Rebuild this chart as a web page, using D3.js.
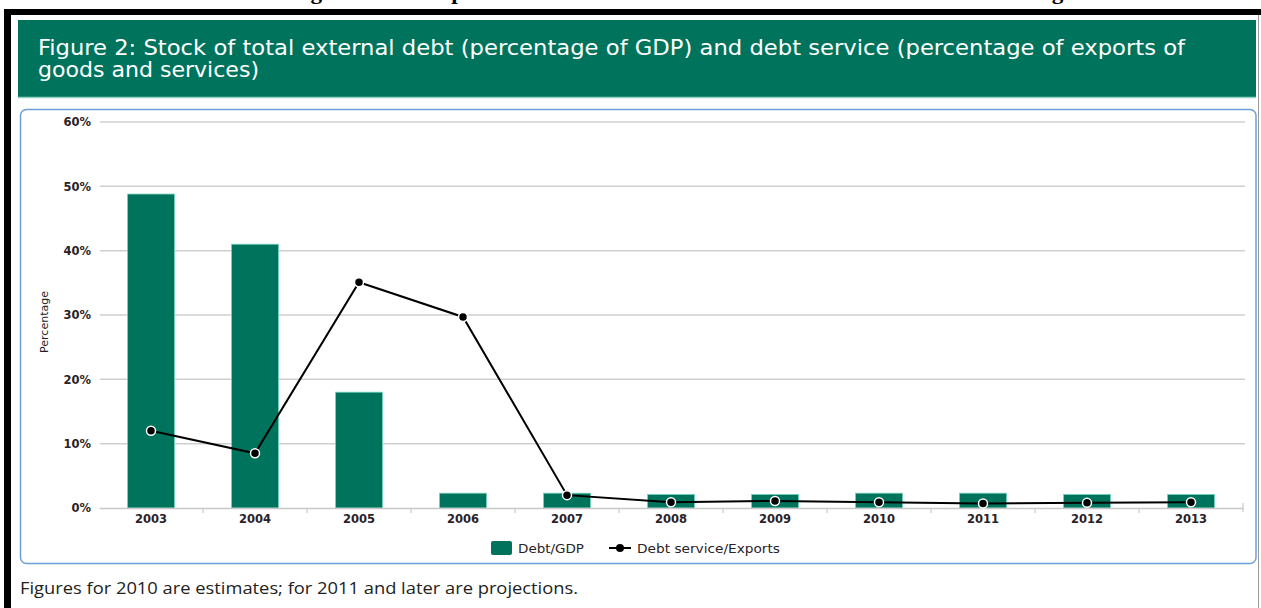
<!DOCTYPE html>
<html><head><meta charset="utf-8">
<script src="https://cdn.jsdelivr.net/npm/d3@7"></script>
<style>html,body{margin:0;padding:0;background:#fff;overflow:hidden}</style>
</head><body>
<svg id="c" width="1261" height="608"></svg>
<script>
const years = ["2003","2004","2005","2006","2007","2008","2009","2010","2011","2012","2013"];
const debtGDP = [48.8, 41.0, 18.0, 2.3, 2.3, 2.1, 2.1, 2.3, 2.3, 2.1, 2.1];
const debtService = [12.0, 8.5, 35.1, 29.7, 2.0, 0.9, 1.1, 0.9, 0.7, 0.8, 0.9];
const yTicks = [0, 10, 20, 30, 40, 50, 60];
const seriesNames = ["Debt/GDP", "Debt service/Exports"];
const titleLines = ["Figure 2: Stock of total external debt (percentage of GDP) and debt service (percentage of exports of", "goods and services)"];
const topCaption = "Figure 4.2: Comparison of Total External Debt and Debt Service Ratio for Nigeria";
const footnote = "Figures for 2010 are estimates; for 2011 and later are projections.";

const green = "#00735c";
const svg = d3.select("#c");

// caption above the frame (cropped in the reference as well)
svg.append("text").attr("x", 290).attr("y", -1)
  .attr("font-family", "Liberation Serif, serif").attr("font-weight", "bold").attr("font-size", 20)
  .attr("textLength", 812).attr("lengthAdjust", "spacingAndGlyphs")
  .attr("fill", "#000").text(topCaption);

// frame
svg.append("rect").attr("x", 4).attr("y", 9).attr("width", 1257).attr("height", 6).attr("fill", "#000");
svg.append("rect").attr("x", 4).attr("y", 9).attr("width", 7).attr("height", 599).attr("fill", "#000");
svg.append("line").attr("x1", 1258.5).attr("x2", 1258.5).attr("y1", 15).attr("y2", 608).attr("stroke", "#9a9a9a").attr("stroke-width", 1);

// header
svg.append("rect").attr("x", 18).attr("y", 20).attr("width", 1238).attr("height", 77).attr("fill", green);
svg.append("line").attr("x1", 18).attr("x2", 1256).attr("y1", 97.5).attr("y2", 97.5).attr("stroke", "#8fd3c3").attr("stroke-width", 1.5);
const tl = svg.append("g").attr("font-family", "DejaVu Sans Condensed, DejaVu Sans, sans-serif").attr("font-size", 20.5).attr("fill", "#fff");
tl.append("text").attr("x", 38).attr("y", 55).attr("textLength", 1147).attr("lengthAdjust", "spacingAndGlyphs").text(titleLines[0]);
tl.append("text").attr("x", 38).attr("y", 77).attr("textLength", 221).attr("lengthAdjust", "spacingAndGlyphs").text(titleLines[1]);

// panel
svg.append("rect").attr("x", 20.5).attr("y", 109.5).attr("width", 1235.5).attr("height", 454).attr("rx", 6)
  .attr("fill", "#fff").attr("stroke", "#6f9fd8").attr("stroke-width", 1.5);

// scales
const x = d3.scaleBand().domain(years).range([99, 1243]).paddingInner(0.55).paddingOuter(0.275);
const y = d3.scaleLinear().domain([0, 60]).range([508, 122]);

// gridlines
svg.append("g").selectAll("line").data(yTicks.filter(d => d > 0)).join("line")
  .attr("x1", 100).attr("x2", 1245).attr("y1", d => y(d)).attr("y2", d => y(d))
  .attr("stroke", "#cfcfcf").attr("stroke-width", 1.5);

// y axis labels
const ya = svg.append("g").attr("transform", "translate(91,0)")
  .call(d3.axisLeft(y).tickValues(yTicks).tickFormat(d => d + "%").tickSize(0).tickPadding(0));
ya.select(".domain").remove();
ya.selectAll("text").attr("font-family", "DejaVu Sans, sans-serif").attr("font-weight", "bold")
  .attr("font-size", 11.5).attr("fill", "#2a2226");

// y title
svg.append("text").attr("transform", "translate(48,322) rotate(-90)").attr("text-anchor", "middle")
  .attr("font-family", "DejaVu Sans, sans-serif").attr("font-size", 11).attr("fill", "#222").text("Percentage");

// bars
svg.append("g").selectAll("rect").data(years).join("rect")
  .attr("x", d => x(d)).attr("width", x.bandwidth())
  .attr("y", (d, i) => y(debtGDP[i])).attr("height", (d, i) => y(0) - y(debtGDP[i]))
  .attr("fill", green).attr("stroke", "#6fcfb6").attr("stroke-width", 0.8);

// x axis
const xa = svg.append("g").attr("transform", "translate(0,508)")
  .call(d3.axisBottom(x).tickSize(0).tickPadding(7));
xa.select(".domain").attr("stroke", "#c8c8c8").attr("stroke-width", 1.5);
xa.selectAll("text").attr("font-family", "DejaVu Sans, sans-serif").attr("font-weight", "bold")
  .attr("font-size", 11.5).attr("fill", "#2a2226");
const bounds = years.slice(1).map(d => x(d) - x.step() * x.paddingInner() / 2);
svg.append("g").selectAll("line").data(bounds).join("line")
  .attr("x1", d => d).attr("x2", d => d).attr("y1", 508).attr("y2", 513)
  .attr("stroke", "#c8c8c8").attr("stroke-width", 1.2);
svg.append("line").attr("x1", 1243).attr("x2", 1243).attr("y1", 503).attr("y2", 512)
  .attr("stroke", "#c8c8c8").attr("stroke-width", 1.2);

// line
const line = d3.line().x((d, i) => x(years[i]) + x.bandwidth() / 2).y(d => y(d));
svg.append("path").datum(debtService).attr("d", line).attr("fill", "none").attr("stroke", "#000").attr("stroke-width", 2);
svg.append("g").selectAll("circle").data(debtService).join("circle")
  .attr("cx", (d, i) => x(years[i]) + x.bandwidth() / 2).attr("cy", d => y(d)).attr("r", 4.5)
  .attr("fill", "#000").attr("stroke", "#fff").attr("stroke-width", 1.5);

// legend
const lg = svg.append("g").attr("font-family", "DejaVu Sans Condensed, DejaVu Sans, sans-serif").attr("font-size", 13).attr("fill", "#2a2226");
lg.append("rect").attr("x", 491).attr("y", 541).attr("width", 21).attr("height", 14).attr("rx", 2).attr("fill", green);
lg.append("text").attr("x", 518).attr("y", 553).attr("textLength", 66).attr("lengthAdjust", "spacingAndGlyphs").text(seriesNames[0]);
lg.append("line").attr("x1", 609).attr("x2", 631).attr("y1", 548).attr("y2", 548).attr("stroke", "#000").attr("stroke-width", 2);
lg.append("circle").attr("cx", 620).attr("cy", 548).attr("r", 4).attr("fill", "#000");
lg.append("text").attr("x", 637).attr("y", 553).attr("textLength", 143).attr("lengthAdjust", "spacingAndGlyphs").text(seriesNames[1]);

// footnote
svg.append("text").attr("x", 20).attr("y", 594).attr("font-family", "Open Sans, sans-serif").attr("font-size", 16)
  .attr("fill", "#222").attr("textLength", 558).attr("lengthAdjust", "spacingAndGlyphs").text(footnote);
</script>
</body></html>
